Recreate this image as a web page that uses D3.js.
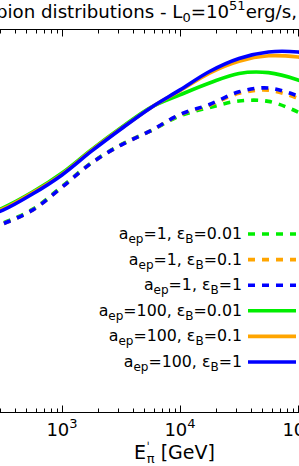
<!DOCTYPE html>
<html>
<head>
<meta charset="utf-8">
<script src="https://cdn.jsdelivr.net/npm/d3@7"></script>
<style>
  html, body { margin: 0; padding: 0; background: #fff; }
  svg { display: block; }
  text { font-family: "DejaVu Sans", sans-serif; fill: #000; }
</style>
</head>
<body>
<svg id="chart" width="299" height="466"></svg>
<script>
// Pion energy E'_pi [GeV]
const energies = [251, 316, 562, 1000, 1778, 3162, 5623, 10000, 17783, 31623, 56234, 100000, 125893];
// relative log intensity (arbitrary units, y-axis not shown in crop)
const greenDash  = [4.80, 4.93, 5.29, 5.89, 6.51, 6.98, 7.34, 7.73, 7.95, 8.12, 8.11, 7.83, 7.65];
const orangeDash = [4.78, 4.91, 5.27, 5.87, 6.50, 6.97, 7.34, 7.76, 8.01, 8.32, 8.40, 8.19, 8.06];
const blueDash   = [4.78, 4.91, 5.27, 5.87, 6.50, 6.97, 7.34, 7.77, 8.03, 8.36, 8.46, 8.25, 8.12];
const greenSolid = [5.22, 5.33, 5.74, 6.24, 6.85, 7.42, 7.95, 8.28, 8.59, 8.84, 8.86, 8.67, 8.54];
const orangeSolid= [5.21, 5.30, 5.72, 6.21, 6.83, 7.40, 7.94, 8.39, 8.85, 9.16, 9.30, 9.27, 9.22];
const blueSolid  = [5.17, 5.27, 5.69, 6.19, 6.81, 7.39, 7.94, 8.41, 8.89, 9.23, 9.40, 9.40, 9.35];

const seriesNames = ["greenDash","orangeDash","blueDash","greenSolid","orangeSolid","blueSolid"];
const seriesValues = [greenDash, orangeDash, blueDash, greenSolid, orangeSolid, blueSolid];
const aepLabels = ["1","1","1","100","100","100"];
const epsLabels = ["0.01","0.1","1","0.01","0.1","1"];
const colors = ["#00ee00","#ffa500","#0000ff","#00ee00","#ffa500","#0000ff"];
const dashed = [true,true,true,false,false,false];
const xTickLabels = [{v:1e3, e:"3"},{v:1e4, e:"4"},{v:1e5, e:"5"}];
const titleParts = {pre:"pion distributions - L", sub:"0", mid:"=10", sup:"51", post:"erg/s,"};

(function () {
const svg = d3.select("#chart");
const W = 299, H = 466;
const yTop = 29, yBot = 412;
const x = d3.scaleLog().domain([1e2, 1e5]).range([-56, 298]);
const y = d3.scaleLinear().domain([0, 10]).range([yBot, yTop]);

// curves
const line = d3.line()
  .x((d,i) => x(energies[i]))
  .y(d => y(d))
  .curve(d3.curveCatmullRom.alpha(0.5));

seriesValues.forEach((vals, k) => {
  svg.append("path")
    .attr("d", line(vals))
    .attr("fill", "none")
    .attr("stroke", colors[k])
    .attr("stroke-width", 3.6)
    .attr("stroke-dasharray", dashed[k] ? "7,7" : null)
    .attr("stroke-linecap", "butt");
});

// axes spines
svg.append("line").attr("x1", 0).attr("x2", W).attr("y1", yTop + 0.5).attr("y2", yTop + 0.5)
  .attr("stroke", "#000").attr("stroke-width", 1);
svg.append("line").attr("x1", 0).attr("x2", W).attr("y1", yBot + 0.5).attr("y2", yBot + 0.5)
  .attr("stroke", "#000").attr("stroke-width", 1);

// ticks
const allTicks = [];
for (let p = 2; p <= 5; p++) {
  for (let m = 1; m <= 9; m++) allTicks.push({v: m * Math.pow(10, p), major: m === 1});
}
allTicks.forEach(t => {
  const px = Math.round(x(t.v)) + 0.5;
  if (px < -1 || px > W + 1) return;
  const len = t.major ? 6.5 : 3.5;
  svg.append("line").attr("x1", px).attr("x2", px).attr("y1", yBot).attr("y2", yBot - len)
    .attr("stroke", "#000").attr("stroke-width", 1);
  svg.append("line").attr("x1", px).attr("x2", px).attr("y1", yTop + 1).attr("y2", yTop + 1 + len)
    .attr("stroke", "#000").attr("stroke-width", 1);
});

// tick labels
xTickLabels.forEach(t => {
  const tx = svg.append("text").attr("x", x(t.v)).attr("y", 436)
    .attr("text-anchor", "middle").style("font-size", "18px");
  tx.append("tspan").text("10");
  tx.append("tspan").attr("dy", -8).style("font-size", "13px").text(t.e);
});

// x label
const xl = svg.append("text").attr("x", 134).attr("y", 459).style("font-size", "19px");
xl.append("tspan").text("E");
xl.append("tspan").attr("dx", 0.5).attr("dy", -8).style("font-size", "12px").text("ˈ");
xl.append("tspan").attr("dx", -3).attr("dy", 12).style("font-size", "13px").text("π");
xl.append("tspan").attr("dy", -4).text(" [GeV]");

// title
const tt = svg.append("text").attr("x", -4).attr("y", 18).style("font-size", "18.2px");
tt.append("tspan").text(titleParts.pre);
tt.append("tspan").attr("dy", 4).style("font-size", "13px").text(titleParts.sub);
tt.append("tspan").attr("dy", -4).text(titleParts.mid);
tt.append("tspan").attr("dy", -8).style("font-size", "13px").text(titleParts.sup);
tt.append("tspan").attr("dy", 8).text(titleParts.post);

// legend
const legY0 = 234, legDY = 25.6;
seriesNames.forEach((n, k) => {
  const cy = legY0 + k * legDY;
  svg.append("line").attr("x1", 248).attr("x2", 296).attr("y1", cy).attr("y2", cy)
    .attr("stroke", colors[k]).attr("stroke-width", 3.6)
    .attr("stroke-dasharray", dashed[k] ? "7,7" : null);
  const t = svg.append("text").attr("x", 242).attr("y", cy + 5)
    .attr("text-anchor", "end").style("font-size", "15.8px");
  t.append("tspan").text("a");
  t.append("tspan").attr("dy", 4).style("font-size", "12px").text("ep");
  t.append("tspan").attr("dy", -4).text("=" + aepLabels[k] + ", ε");
  t.append("tspan").attr("dy", 4).style("font-size", "12px").text("B");
  t.append("tspan").attr("dy", -4).text("=" + epsLabels[k]);
});
})();
</script>
</body>
</html>
